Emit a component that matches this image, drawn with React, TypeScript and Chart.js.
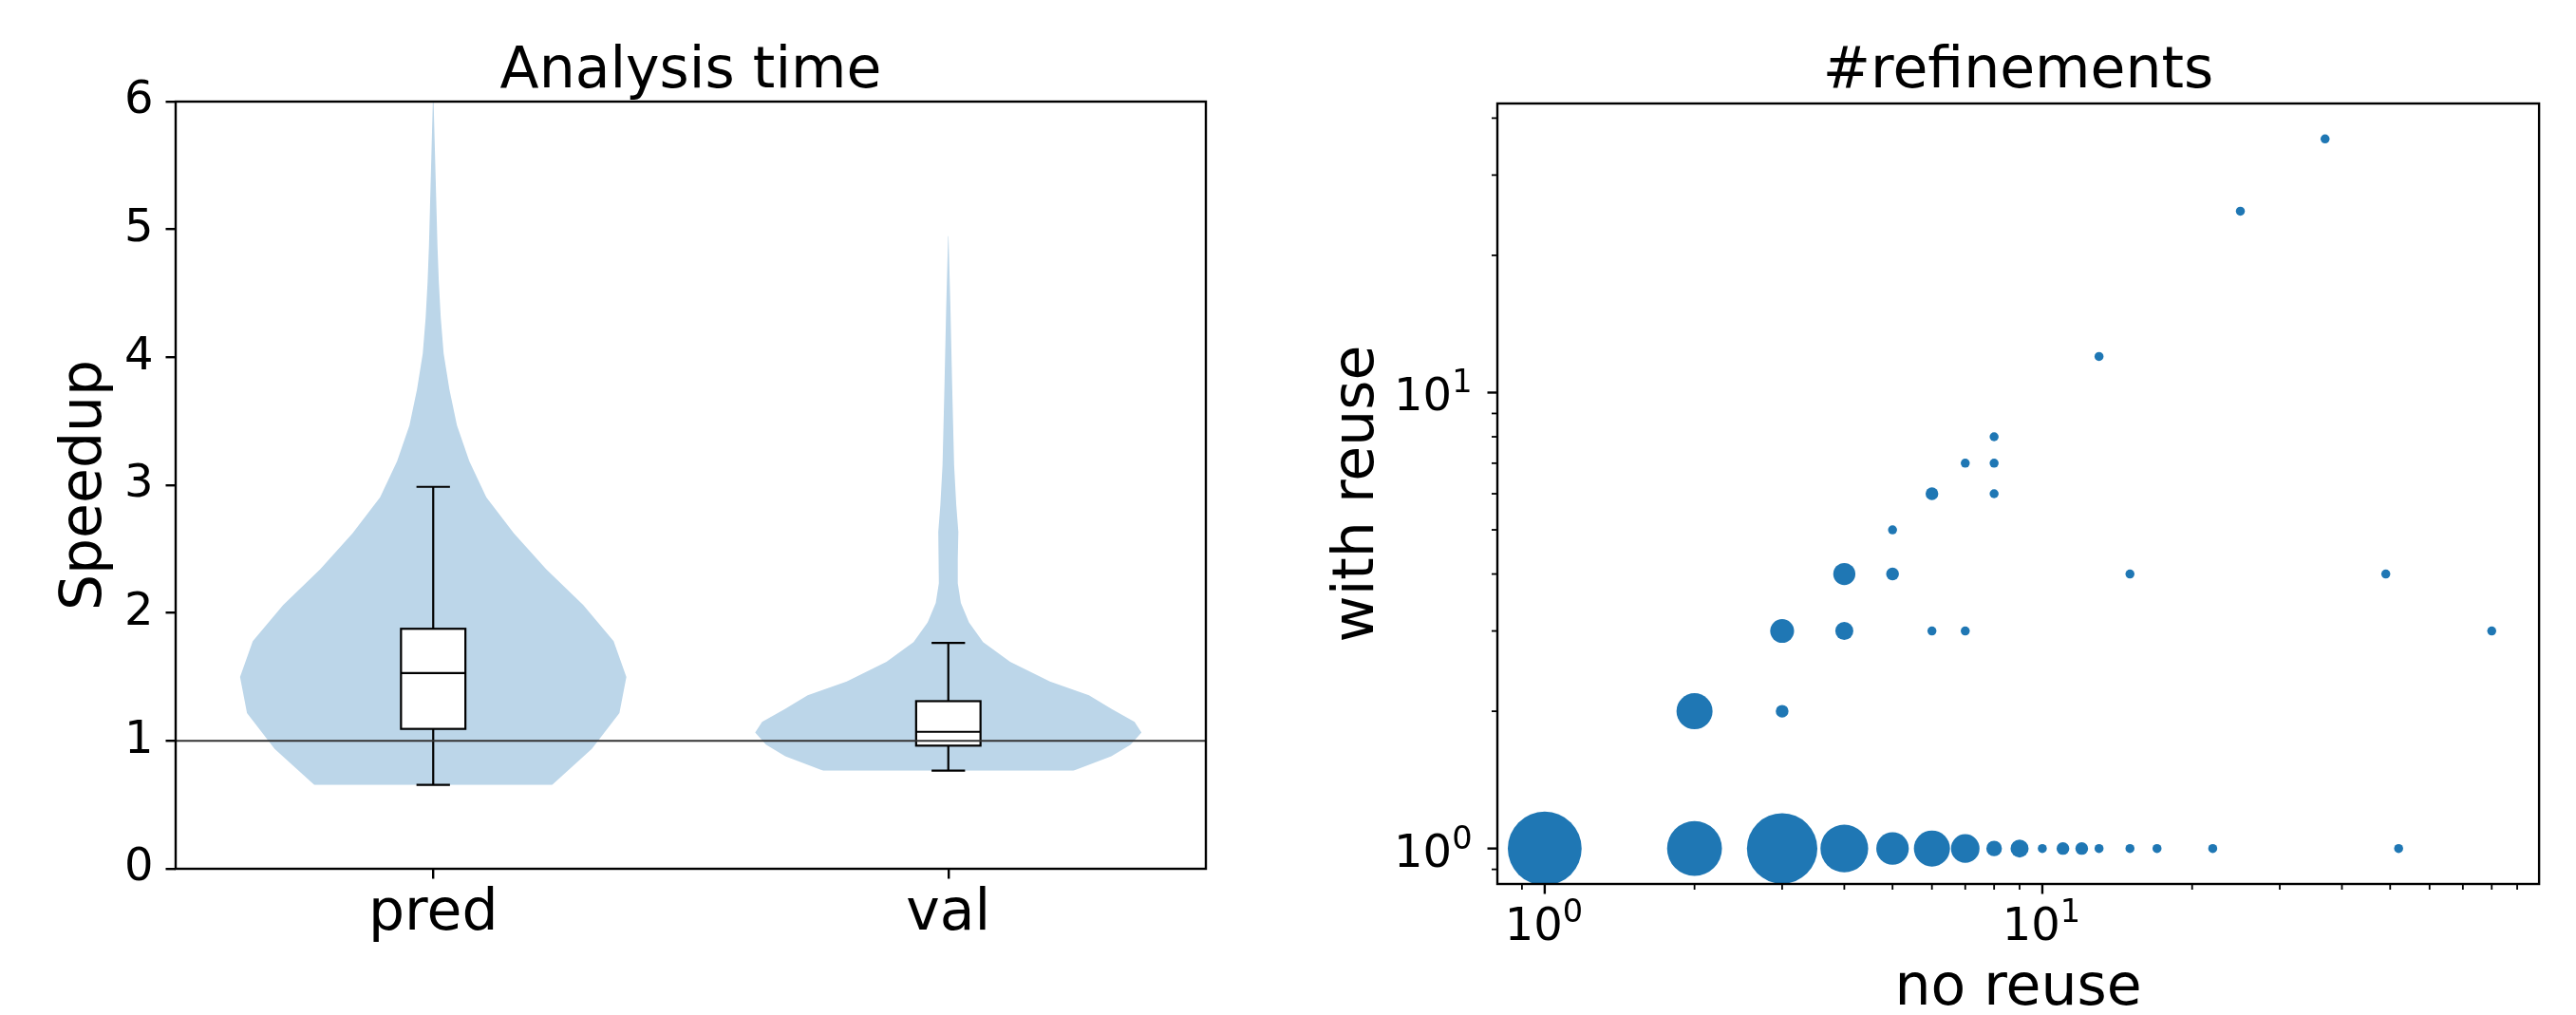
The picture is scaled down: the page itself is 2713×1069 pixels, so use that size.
import React, { useEffect, useRef } from 'react';
import { Chart, registerables } from 'chart.js';

Chart.register(...registerables);

// ---------------- Left panel: "Analysis time" ----------------
const categories = ['pred', 'val'];
const speedupTicks = [0, 1, 2, 3, 4, 5, 6];
const speedupRange = [0, 6];
const referenceSpeedup = 1;

// violin outlines: speedup level and relative half-width (1 = widest)
const predLevels = [0.656, 0.937, 1.218, 1.5, 1.781, 2.062, 2.343, 2.624, 2.906, 3.187, 3.468, 3.749, 4.03, 4.312, 4.593, 4.874, 5.155, 5.436, 5.718, 5.999];
const predDensity = [0.615, 0.821, 0.964, 1.0, 0.934, 0.777, 0.585, 0.418, 0.275, 0.187, 0.123, 0.084, 0.054, 0.039, 0.029, 0.022, 0.017, 0.012, 0.007, 0.002];

const valLevels = [0.767, 0.88, 0.97, 1.065, 1.15, 1.25, 1.357, 1.465, 1.619, 1.773, 1.927, 2.08, 2.234, 2.419, 2.634, 2.85, 3.157, 3.466, 3.774, 4.39, 4.95];
const valDensity = [0.647, 0.844, 0.944, 1.0, 0.964, 0.846, 0.728, 0.526, 0.32, 0.18, 0.107, 0.065, 0.049, 0.049, 0.052, 0.041, 0.03, 0.025, 0.02, 0.011, 0.001];

// box plot statistics (pred, val)
const whiskerLow = [0.656, 0.767];
const quartile1 = [1.094, 0.963];
const medians = [1.53, 1.071];
const quartile3 = [1.877, 1.311];
const whiskerHigh = [2.987, 1.767];

// ---------------- Right panel: "#refinements" ----------------
const noReuse = [1, 2, 3, 4, 5, 6, 7, 8, 9, 10, 11, 12, 13, 15, 17, 22, 52, 2, 3, 3, 4, 6, 7, 80, 4, 5, 15, 49, 5, 6, 8, 7, 8, 8, 13, 25, 37];
const withReuse = [1, 1, 1, 1, 1, 1, 1, 1, 1, 1, 1, 1, 1, 1, 1, 1, 1, 2, 2, 3, 3, 3, 3, 3, 4, 4, 4, 4, 5, 6, 6, 7, 7, 8, 12, 25, 36];
const counts = [67, 37, 61, 28, 13, 16, 10, 3, 4, 1, 2, 2, 1, 1, 1, 1, 1, 16, 2, 7, 4, 1, 1, 1, 6, 2, 1, 1, 1, 2, 1, 1, 1, 1, 1, 1, 1];

const logMajorTicks = [1, 10];
const logTickBase = ['10', '10'];
const logTickExponent = ['0', '1'];
const xMinorTicks = [0.9, 2, 3, 4, 5, 6, 7, 8, 9, 20, 30, 40, 50, 60, 70, 80, 90];
const yMinorTicks = [0.9, 2, 3, 4, 5, 6, 7, 8, 9, 20, 30, 40];

// ---------------- styles ----------------
const FONT = '"DejaVu Sans"';
const VIOLIN_COLOR = 'rgb(188,214,233)';
const POINT_COLOR = '#1f77b4';
const VIOLIN_HALF = 0.375;
const BOX_HALF = 0.0625;
const CAP_HALF = 0.0325;
const SPINE_W = 2.4;
const MAJOR_LEN = 10.5;
const MINOR_LEN = 6;

const line = (ctx: CanvasRenderingContext2D, x1: number, y1: number, x2: number, y2: number) => {
  ctx.beginPath();
  ctx.moveTo(x1, y1);
  ctx.lineTo(x2, y2);
  ctx.stroke();
};

const leftDecor = {
  id: 'leftDecor',
  afterDatasetsDraw(chart: any) {
    const { ctx, chartArea: a, scales } = chart;
    const x = scales.x;
    const y = scales.y;
    ctx.save();
    categories.forEach((_, i) => {
      const pos = i + 1;
      const cx = x.getPixelForValue(pos);
      const bw = x.getPixelForValue(pos + BOX_HALF) - cx;
      const cw = x.getPixelForValue(pos + CAP_HALF) - cx;
      const yLo = y.getPixelForValue(whiskerLow[i]);
      const yQ1 = y.getPixelForValue(quartile1[i]);
      const yMed = y.getPixelForValue(medians[i]);
      const yQ3 = y.getPixelForValue(quartile3[i]);
      const yHi = y.getPixelForValue(whiskerHigh[i]);
      ctx.strokeStyle = '#000';
      ctx.lineWidth = 2.2;
      line(ctx, cx, yQ1, cx, yLo);
      line(ctx, cx, yQ3, cx, yHi);
      line(ctx, cx - cw, yLo, cx + cw, yLo);
      line(ctx, cx - cw, yHi, cx + cw, yHi);
      ctx.fillStyle = '#fff';
      ctx.fillRect(cx - bw, yQ3, 2 * bw, yQ1 - yQ3);
      ctx.strokeRect(cx - bw, yQ3, 2 * bw, yQ1 - yQ3);
      line(ctx, cx - bw, yMed, cx + bw, yMed);
    });
    const yRef = y.getPixelForValue(referenceSpeedup);
    ctx.strokeStyle = '#333';
    ctx.lineWidth = 2;
    line(ctx, a.left, yRef, a.right, yRef);
    ctx.restore();
  },
  afterDraw(chart: any) {
    const { ctx, chartArea: a } = chart;
    ctx.save();
    ctx.strokeStyle = '#000';
    ctx.lineWidth = SPINE_W;
    ctx.strokeRect(a.left, a.top, a.right - a.left, a.bottom - a.top);
    ctx.fillStyle = '#000';
    ctx.font = `60px ${FONT}`;
    ctx.textAlign = 'center';
    ctx.textBaseline = 'alphabetic';
    ctx.fillText('Analysis time', (a.left + a.right) / 2, 92);
    ctx.translate(106, (a.top + a.bottom) / 2);
    ctx.rotate(-Math.PI / 2);
    ctx.fillText('Speedup', 0, 0);
    ctx.restore();
  },
};

const rightDecor = {
  id: 'rightDecor',
  afterDraw(chart: any) {
    const { ctx, chartArea: a, scales } = chart;
    const x = scales.x;
    const y = scales.y;
    ctx.save();
    ctx.strokeStyle = '#000';
    const inX = (v: number) => v >= x.min && v <= x.max;
    const inY = (v: number) => v >= y.min && v <= y.max;
    // minor ticks
    ctx.lineWidth = 1.8;
    xMinorTicks.filter(inX).forEach((v) => {
      const px = x.getPixelForValue(v);
      line(ctx, px, a.bottom, px, a.bottom + MINOR_LEN);
    });
    yMinorTicks.filter(inY).forEach((v) => {
      const py = y.getPixelForValue(v);
      line(ctx, a.left, py, a.left - MINOR_LEN, py);
    });
    // major ticks
    ctx.lineWidth = SPINE_W;
    logMajorTicks.forEach((v) => {
      if (inX(v)) {
        const px = x.getPixelForValue(v);
        line(ctx, px, a.bottom, px, a.bottom + MAJOR_LEN);
      }
      if (inY(v)) {
        const py = y.getPixelForValue(v);
        line(ctx, a.left, py, a.left - MAJOR_LEN, py);
      }
    });
    // spines
    ctx.strokeRect(a.left, a.top, a.right - a.left, a.bottom - a.top);
    // tick labels (10^k)
    ctx.fillStyle = '#000';
    ctx.textBaseline = 'alphabetic';
    ctx.textAlign = 'left';
    const baseFont = `48px ${FONT}`;
    const supFont = `33.6px ${FONT}`;
    logMajorTicks.forEach((v, i) => {
      ctx.font = baseFont;
      const wb = ctx.measureText(logTickBase[i]).width;
      ctx.font = supFont;
      const ws = ctx.measureText(logTickExponent[i]).width;
      const total = wb + ws;
      if (inX(v)) {
        const px = x.getPixelForValue(v);
        const sx = px - total / 2 - 1;
        ctx.font = baseFont;
        ctx.fillText(logTickBase[i], sx, a.bottom + 59);
        ctx.font = supFont;
        ctx.fillText(logTickExponent[i], sx + wb, a.bottom + 40);
      }
      if (inY(v)) {
        const py = y.getPixelForValue(v);
        const sx = a.left - MAJOR_LEN - 16 - total;
        ctx.font = baseFont;
        ctx.fillText(logTickBase[i], sx, py + 19);
        ctx.font = supFont;
        ctx.fillText(logTickExponent[i], sx + wb, py);
      }
    });
    // titles
    ctx.font = `60px ${FONT}`;
    ctx.textAlign = 'center';
    ctx.fillText('#refinements', (a.left + a.right) / 2, 92);
    ctx.fillText('no reuse', (a.left + a.right) / 2, 1058);
    ctx.translate(66, (a.top + a.bottom) / 2);
    ctx.rotate(-Math.PI / 2);
    ctx.fillText('with reuse', 0, 0);
    ctx.restore();
  },
};

const violinDatasets = () => {
  const sets: any[] = [];
  const shapes = [
    [predLevels, predDensity],
    [valLevels, valDensity],
  ];
  shapes.forEach(([levels, dens], i) => {
    const pos = i + 1;
    sets.push({
      label: categories[i] + '-left',
      data: levels.map((lv, k) => ({ x: pos - dens[k] * VIOLIN_HALF, y: lv })),
      borderColor: 'rgba(0,0,0,0)',
      backgroundColor: VIOLIN_COLOR,
      pointRadius: 0,
      tension: 0,
      fill: false,
    });
    sets.push({
      label: categories[i] + '-right',
      data: levels.map((lv, k) => ({ x: pos + dens[k] * VIOLIN_HALF, y: lv })),
      borderColor: 'rgba(0,0,0,0)',
      backgroundColor: VIOLIN_COLOR,
      pointRadius: 0,
      tension: 0,
      fill: '-1',
    });
  });
  return sets;
};

const logLimits = (vals: number[]) => {
  const lo = Math.log10(Math.min(...vals));
  const hi = Math.log10(Math.max(...vals));
  const m = 0.05 * (hi - lo);
  return [Math.pow(10, lo - m), Math.pow(10, hi + m)];
};

export default function App() {
  const leftRef = useRef<HTMLCanvasElement>(null);
  const rightRef = useRef<HTMLCanvasElement>(null);

  useEffect(() => {
    const tickFont = { family: 'DejaVu Sans', size: 48 };
    const left = new Chart(leftRef.current as HTMLCanvasElement, {
      type: 'line',
      data: { datasets: violinDatasets() },
      plugins: [leftDecor],
      options: {
        responsive: false,
        animation: false,
        events: [],
        indexAxis: 'y',
        layout: { padding: { left: 0, top: 107, right: 110, bottom: 0 } },
        plugins: { legend: { display: false }, tooltip: { enabled: false }, title: { display: false } },
        scales: {
          x: {
            type: 'linear',
            position: 'bottom',
            min: 0.5,
            max: categories.length + 0.5,
            afterBuildTicks: (s: any) => {
              s.ticks = categories.map((_, i) => ({ value: i + 1 }));
            },
            afterFit: (s: any) => {
              s.height = 154;
            },
            ticks: {
              callback: (v: any) => categories[Math.round(Number(v)) - 1],
              font: { family: 'DejaVu Sans', size: 60 },
              color: '#000',
              padding: 2,
              autoSkip: false,
              maxRotation: 0,
            },
            grid: { display: true, drawOnChartArea: false, drawTicks: true, tickLength: MAJOR_LEN, tickWidth: SPINE_W, lineWidth: SPINE_W, tickColor: '#000', color: '#000' },
            border: { display: false },
          },
          y: {
            type: 'linear',
            position: 'left',
            min: speedupRange[0],
            max: speedupRange[1],
            afterBuildTicks: (s: any) => {
              s.ticks = speedupTicks.map((v) => ({ value: v }));
            },
            afterFit: (s: any) => {
              s.width = 185;
            },
            ticks: {
              callback: (v: any) => String(v),
              font: tickFont,
              color: '#000',
              padding: 13,
              autoSkip: false,
            },
            grid: { display: true, drawOnChartArea: false, drawTicks: true, tickLength: MAJOR_LEN, tickWidth: SPINE_W, lineWidth: SPINE_W, tickColor: '#000', color: '#000' },
            border: { display: false },
          },
        },
      },
    } as any);

    const [xMin, xMax] = logLimits(noReuse);
    const [yMin, yMax] = logLimits(withReuse);
    const right = new Chart(rightRef.current as HTMLCanvasElement, {
      type: 'scatter',
      data: {
        datasets: [
          {
            label: 'refinements',
            data: noReuse.map((v, i) => ({ x: v, y: withReuse[i] })),
            backgroundColor: POINT_COLOR,
            borderWidth: 0,
            pointRadius: (c: any) => 4.75 * Math.sqrt(counts[c.dataIndex] ?? 1),
            clip: 0,
          },
        ],
      },
      plugins: [rightDecor],
      options: {
        responsive: false,
        animation: false,
        events: [],
        layout: { padding: { left: 0, top: 109, right: 32, bottom: 0 } },
        plugins: { legend: { display: false }, tooltip: { enabled: false }, title: { display: false } },
        scales: {
          x: {
            type: 'logarithmic',
            position: 'bottom',
            min: xMin,
            max: xMax,
            ticks: { display: false },
            grid: { display: false },
            border: { display: false },
            afterFit: (s: any) => {
              s.height = 138;
            },
          },
          y: {
            type: 'logarithmic',
            position: 'left',
            min: yMin,
            max: yMax,
            ticks: { display: false },
            grid: { display: false },
            border: { display: false },
            afterFit: (s: any) => {
              s.width = 197;
            },
          },
        },
      },
    } as any);

    return () => {
      left.destroy();
      right.destroy();
    };
  }, []);

  return (
    <div style={{ position: 'absolute', left: 0, top: 0, width: 2713, height: 1069, background: '#fff', overflow: 'hidden' }}>
      <canvas ref={leftRef} width={1380} height={1069} style={{ position: 'absolute', left: 0, top: 0, width: 1380, height: 1069 }} />
      <canvas ref={rightRef} width={1333} height={1069} style={{ position: 'absolute', left: 1380, top: 0, width: 1333, height: 1069 }} />
    </div>
  );
}
